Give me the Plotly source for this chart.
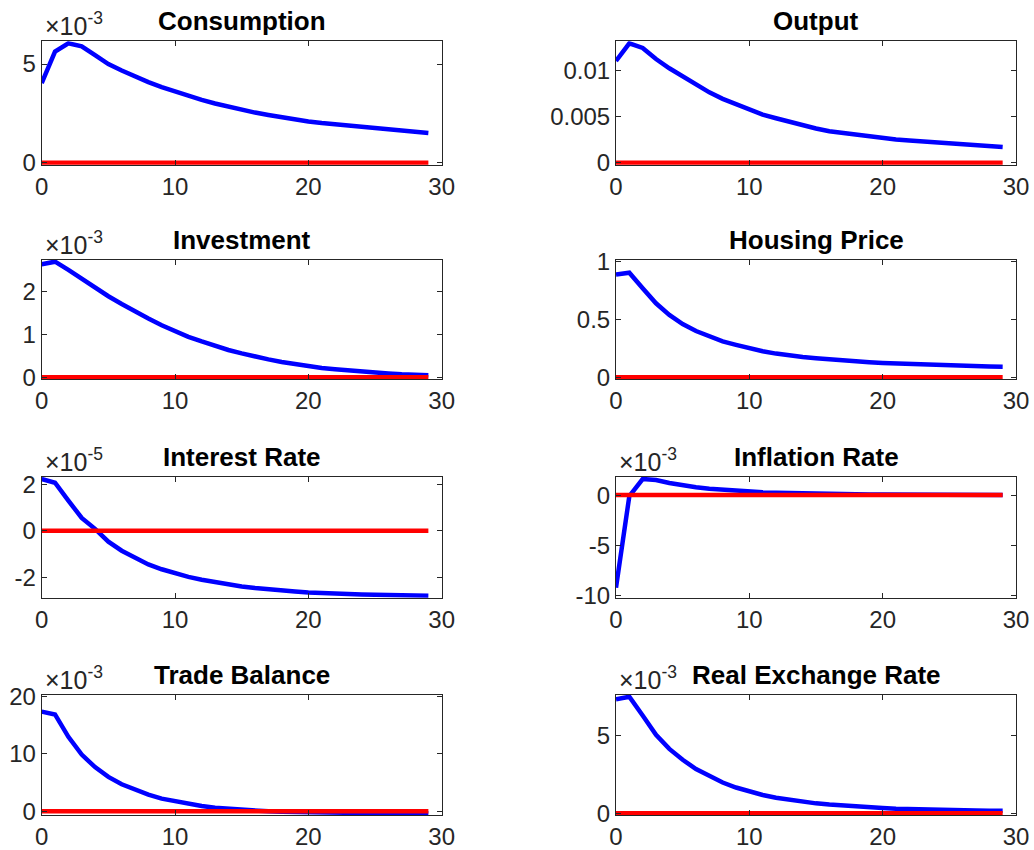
import numpy as np
import plotly.graph_objects as go

periods = list(range(30))

consumption = np.array([4.03, 5.63, 6.05, 5.90, 5.45, 5.00, 4.67, 4.36, 4.08, 3.83,
                        3.60, 3.38, 3.18, 3.00, 2.83, 2.67, 2.54, 2.42, 2.30, 2.19,
                        2.09, 2.01, 1.94, 1.87, 1.81, 1.75, 1.69, 1.63, 1.56, 1.50]) * 1e-3
output = np.array([11.0, 12.9, 12.4, 11.2, 10.2, 9.3, 8.4, 7.6, 6.9, 6.3,
                   5.7, 5.2, 4.8, 4.4, 4.0, 3.7, 3.4, 3.2, 3.0, 2.8,
                   2.6, 2.5, 2.4, 2.3, 2.2, 2.1, 2.0, 1.9, 1.8, 1.7]) * 1e-3
investment = np.array([2.65, 2.71, 2.52, 2.31, 2.10, 1.90, 1.72, 1.54, 1.38, 1.22,
                       1.08, 0.95, 0.84, 0.73, 0.64, 0.56, 0.48, 0.42, 0.36, 0.31,
                       0.26, 0.22, 0.19, 0.16, 0.13, 0.11, 0.09, 0.07, 0.06, 0.05]) * 1e-3
housing_price = np.array([0.89, 0.905, 0.77, 0.64, 0.54, 0.46, 0.40, 0.35, 0.31, 0.28,
                          0.25, 0.225, 0.205, 0.188, 0.175, 0.164, 0.154, 0.145, 0.137, 0.130,
                          0.124, 0.119, 0.114, 0.110, 0.106, 0.103, 0.100, 0.097, 0.094, 0.092])
interest_rate = np.array([2.23, 2.07, 1.30, 0.55, 0.08, -0.47, -0.86, -1.18, -1.45, -1.66,
                          -1.84, -1.99, -2.11, -2.22, -2.32, -2.40, -2.47, -2.53, -2.58, -2.62,
                          -2.66, -2.69, -2.71, -2.73, -2.75, -2.76, -2.77, -2.78, -2.79, -2.80]) * 1e-5
inflation_rate = np.array([-9.2, -0.1, 1.6, 1.5, 1.2, 0.95, 0.78, 0.63, 0.52, 0.42,
                           0.35, 0.29, 0.24, 0.20, 0.16, 0.13, 0.11, 0.09, 0.07, 0.06,
                           0.05, 0.04, 0.03, 0.03, 0.02, 0.02, 0.01, 0.01, 0.01, 0.01]) * 1e-3
trade_balance = np.array([17.4, 16.9, 13.0, 9.9, 7.7, 6.0, 4.7, 3.7, 2.9, 2.2,
                          1.7, 1.25, 0.9, 0.6, 0.4, 0.2, 0.08, -0.02, -0.1, -0.16,
                          -0.21, -0.25, -0.28, -0.30, -0.32, -0.33, -0.34, -0.35, -0.35, -0.36]) * 1e-3
real_exchange_rate = np.array([7.35, 7.51, 6.3, 5.05, 4.15, 3.45, 2.85, 2.38, 1.98, 1.66,
                               1.40, 1.18, 1.00, 0.86, 0.74, 0.64, 0.56, 0.49, 0.43, 0.38,
                               0.34, 0.30, 0.27, 0.25, 0.23, 0.21, 0.19, 0.18, 0.17, 0.16]) * 1e-3
baseline = [0.0] * 30

titles = ["Consumption", "Output", "Investment", "Housing Price",
          "Interest Rate", "Inflation Rate", "Trade Balance", "Real Exchange Rate"]
series = [consumption, output, investment, housing_price,
          interest_rate, inflation_rate, trade_balance, real_exchange_rate]
ytick_vals = [[0, 0.005], [0, 0.005, 0.01], [0, 0.001, 0.002], [0, 0.5, 1],
              [-2e-5, 0, 2e-5], [-0.01, -0.005, 0], [0, 0.01, 0.02], [0, 0.005]]
ytick_text = [["0", "5"], ["0", "0.005", "0.01"], ["0", "1", "2"], ["0", "0.5", "1"],
              ["-2", "0", "2"], ["-10", "-5", "0"], ["0", "10", "20"], ["0", "5"]]
exponents = ["-3", None, "-3", None, "-5", "-3", "-3", "-3"]
xtick_vals = [0, 10, 20, 30]
xtick_text = ["0", "10", "20", "30"]

W, H = 1034, 850
col_px = [(41.7, 441.7), (616.0, 1016.0)]
row_px = [(43.3, 162.7), (261.7, 377.3), (479.0, 595.7), (696.7, 813.3)]
PAD = 2  # px of extra room so thick lines at the limits are not half-clipped

FONT = "Arial, Liberation Sans, Helvetica, sans-serif"
AX = "#262626"

fig = go.Figure()
layout = dict(width=W, height=H, margin=dict(l=0, r=0, t=0, b=0, autoexpand=False),
              plot_bgcolor="white", paper_bgcolor="white", showlegend=False,
              font=dict(family=FONT, color=AX))
annotations = []

for i in range(8):
    r, c = divmod(i, 2)
    x0, x1 = col_px[c]
    yt, yb = row_px[r]
    xa = "xaxis" if i == 0 else f"xaxis{i+1}"
    ya = "yaxis" if i == 0 else f"yaxis{i+1}"
    xr = "x" if i == 0 else f"x{i+1}"
    yr = "y" if i == 0 else f"y{i+1}"
    data = series[i]
    lo = min(float(np.min(data)), 0.0)
    hi = max(float(np.max(data)), 0.0)
    if i == 3:
        hi = 1.0
    if i == 5:
        lo = -0.01
    if i == 6:
        hi = 0.02
    per_px = (hi - lo) / (yb - yt)
    lo_p, hi_p = lo - PAD * per_px, hi + PAD * per_px
    common = dict(showline=True, linecolor=AX, linewidth=1, mirror="ticks",
                  ticks="inside", ticklen=5, tickcolor=AX, tickwidth=1,
                  showgrid=False, zeroline=False, automargin=False,
                  tickfont=dict(family=FONT, size=24, color=AX))
    layout[xa] = dict(domain=[x0 / W, x1 / W], anchor=yr, range=[0, 30],
                      tickmode="array", tickvals=xtick_vals, ticktext=xtick_text,
                      ticklabelstandoff=0, **common)
    layout[ya] = dict(domain=[1 - (yb + PAD) / H, 1 - (yt - PAD) / H], anchor=xr,
                      range=[lo_p, hi_p],
                      tickmode="array", tickvals=ytick_vals[i], ticktext=ytick_text[i],
                      **common)
    fig.add_trace(go.Scatter(x=periods, y=data, mode="lines", xaxis=xr, yaxis=yr,
                             line=dict(color="#0000FF", width=4.5)))
    fig.add_trace(go.Scatter(x=periods, y=baseline, mode="lines", xaxis=xr, yaxis=yr,
                             line=dict(color="#FF0000", width=4.5)))
    annotations.append(dict(text="<b>" + titles[i] + "</b>", xref="paper", yref="paper",
                            x=(x0 + x1) / 2 / W, y=1 - (yt - 5) / H,
                            xanchor="center", yanchor="bottom", showarrow=False,
                            font=dict(family=FONT, size=26, color="black")))
    if exponents[i]:
        annotations.append(dict(text="×10<sup>" + exponents[i] + "</sup>",
                                xref="paper", yref="paper",
                                x=(x0 + 1) / W, y=1 - (yt - 1) / H,
                                xanchor="left", yanchor="bottom", showarrow=False,
                                font=dict(family=FONT, size=25, color=AX)))

layout["annotations"] = annotations
fig.update_layout(**layout)
fig.write_html("out.html", config={"displayModeBar": False},
               post_script="document.body.style.margin='0px';document.body.style.padding='0px';")
